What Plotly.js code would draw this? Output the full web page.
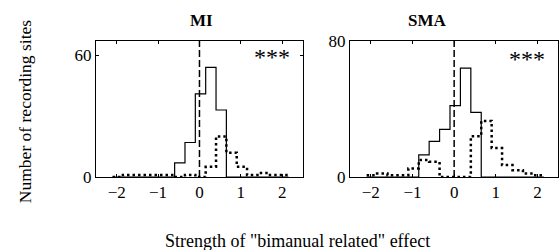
<!DOCTYPE html>
<html><head><meta charset="utf-8">
<script src="https://cdn.plot.ly/plotly-3.0.1.min.js"></script>
<style>html,body{margin:0;padding:0;background:#fff}#chart{width:560px;height:250px}</style>
</head><body><div id="chart"></div>
<script>
// Bin edges (width 0.25)
const binEdges = [-2.1,-1.85,-1.6,-1.35,-1.1,-0.85,-0.6,-0.35,-0.1,0.15,0.4,0.65,0.9,1.15,1.4,1.65,1.9,2.15];
// MI counts
const miSolid  = [0,0,0,0,0,0,7,17,41,54,33,0,0,0,0,0,0];
const miDotted = [0,1,1,1,1,1,0,1,0,5,20,12,5,1,2,1,1];
// SMA counts
const smaSolid  = [0,0,0,0,0,13,21,28,42,64,38,0,0,0,0,0,0];
const smaDotted = [1,2,1,1,5,10,9,0,0,0,24,33,17,7,4,2,1];
const xTicks = [-2,-1,0,1,2];
const panelTitles = ['MI','SMA'];
const yTickMI = [0,60];
const yTickSMA = [0,80];

const FONT = 'Liberation Serif, Times New Roman, serif';

function stepTrace(counts, xa, ya, dash, width) {
  const ys = counts.concat([counts[counts.length-1]]);
  return {x: binEdges, y: ys, type:'scatter', mode:'lines', xaxis:xa, yaxis:ya,
    line:{shape:'hv', color:'#000', width:width, dash:dash}, hoverinfo:'skip', showlegend:false};
}

const data = [
  stepTrace(miSolid,'x','y','solid',1.2),
  stepTrace(miDotted,'x','y','2.5px,3px',2.5),
  stepTrace(smaSolid,'x2','y2','solid',1.2),
  stepTrace(smaDotted,'x2','y2','2.5px,3px',2.5)
];

const axX = (dom, anchor) => ({domain:dom, anchor:anchor, range:[-2.5,2.5], tickvals:xTicks,
  ticktext: xTicks.map(v => v<0 ? '\u2212'+Math.abs(v) : String(v)),
  ticks:'inside', ticklen:3, tickcolor:'#000', showline:true, linecolor:'#000', linewidth:1,
  mirror:'ticks', showgrid:false, zeroline:false, tickfont:{family:FONT,size:17,color:'#000'}});
const axY = (dom, anchor, rng, tv) => ({domain:dom, anchor:anchor, range:rng, tickvals:tv,
  ticks:'inside', ticklen:3, tickcolor:'#000', showline:true, linecolor:'#000', linewidth:1,
  mirror:'ticks', showgrid:false, zeroline:false, tickfont:{family:FONT,size:17,color:'#000'}});

const yDom = [0.292, 0.836];
const layout = {
  width:560, height:250, margin:{l:0,r:0,t:0,b:0},
  paper_bgcolor:'#fff', plot_bgcolor:'#fff', showlegend:false,
  xaxis: axX([0.1714,0.541],'y'),
  yaxis: axY(yDom,'x',[0,67],yTickMI),
  xaxis2: axX([0.625,0.997],'y2'),
  yaxis2: axY(yDom,'x2',[0,80],yTickSMA),
  shapes: [
    {type:'line', xref:'x', yref:'y', x0:0, x1:0, y0:0, y1:67, line:{color:'#000', width:1.5, dash:'7px,3px'}},
    {type:'line', xref:'x2', yref:'y2', x0:0, x1:0, y0:0, y1:80, line:{color:'#000', width:1.5, dash:'7px,3px'}}
  ],
  annotations: [
    {text:'<b>'+panelTitles[0]+'</b>', xref:'paper', yref:'paper', x:0.359, y:0.916, yanchor:'middle', showarrow:false, font:{family:FONT,size:17,color:'#000'}},
    {text:'<b>'+panelTitles[1]+'</b>', xref:'paper', yref:'paper', x:0.802, y:0.916, yanchor:'middle', showarrow:false, font:{family:FONT,size:17,color:'#000'}},
    {text:'***', xref:'x', yref:'y', x:1.76, y:59, yanchor:'middle', showarrow:false, font:{family:FONT,size:24,color:'#000'}},
    {text:'***', xref:'x2', yref:'y2', x:1.74, y:69.5, yanchor:'middle', showarrow:false, font:{family:FONT,size:24,color:'#000'}},
    {text:'Number of recording sites', xref:'paper', yref:'paper', x:0.023, y:0.555, yanchor:'middle', textangle:-90, showarrow:false, font:{family:FONT,size:17.5,color:'#000'}},
    {text:'Strength of "bimanual related" effect', xref:'paper', yref:'paper', x:0.532, y:0.036, yanchor:'middle', showarrow:false, font:{family:FONT,size:18,color:'#000'}}
  ]
};
Plotly.newPlot('chart', data, layout, {staticPlot:true, displayModeBar:false});
</script></body></html>
